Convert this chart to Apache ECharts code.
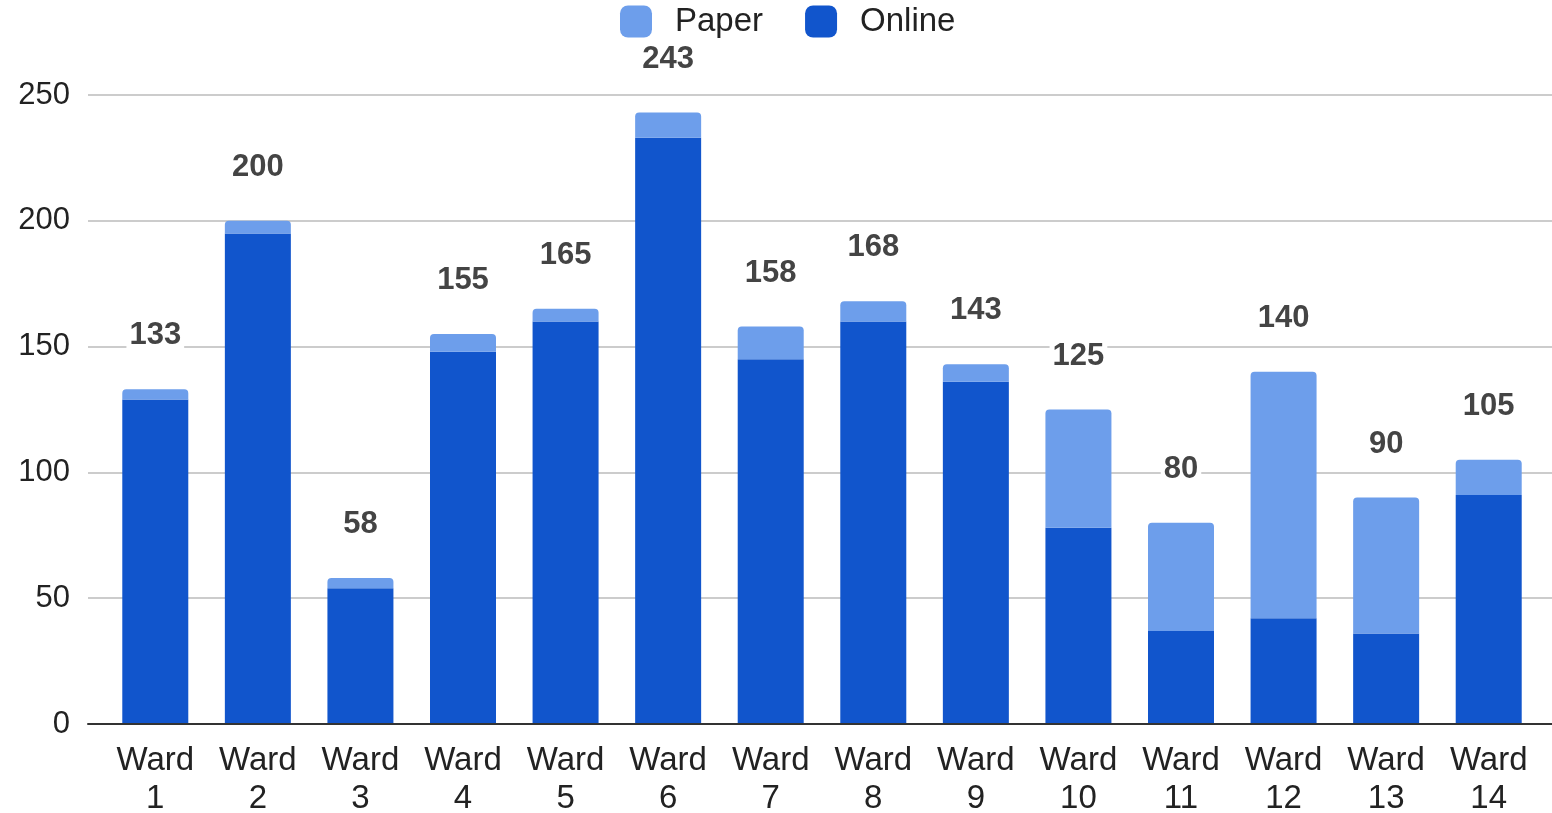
<!DOCTYPE html>
<html>
<head>
<meta charset="utf-8">
<script src="https://cdn.jsdelivr.net/npm/echarts@6/dist/echarts.min.js"></script>
<style>html,body{margin:0;padding:0;background:#fff;}#c{width:1552px;height:813px;}</style>
</head>
<body>
<div id="c"></div>
<script>
const categories = ['Ward\n1','Ward\n2','Ward\n3','Ward\n4','Ward\n5','Ward\n6','Ward\n7','Ward\n8','Ward\n9','Ward\n10','Ward\n11','Ward\n12','Ward\n13','Ward\n14'];
const online = [129,195,54,148,160,233,145,160,136,78,37,42,36,91];
const paper = [4,5,4,7,5,10,13,8,7,47,43,98,54,14];
const totals = [133,200,58,155,165,243,158,168,143,125,80,140,90,105];
const yTicks = [0,50,100,150,200,250];

const FONT = '"Liberation Sans", Arial, sans-serif';
const chart = echarts.init(document.getElementById('c'));
chart.setOption({
  animation: false,
  backgroundColor: '#fff',
  textStyle: {fontFamily: FONT},
  legend: {
    data: ['Paper','Online'],
    top: 0, left: 615,
    icon: 'roundRect',
    itemWidth: 32, itemHeight: 32, itemGap: 42,
    textStyle: {fontSize: 33, color: '#222', fontFamily: FONT, padding: [0,0,0,18]}
  },
  grid: [
    {left: 88, right: 0, top: 95, bottom: 89, containLabel: false, outerBoundsMode: 'none'},
    {left: 104, right: 12, top: 95, bottom: 89, containLabel: false, outerBoundsMode: 'none'}
  ],
  xAxis: [
    {gridIndex: 0, type: 'category', data: [''], z: 20, axisLine: {show: true, lineStyle: {color: '#333', width: 2}}, axisTick: {show: false}, axisLabel: {show: false}},
    {gridIndex: 1, type: 'category', data: categories, axisLine: {show: false}, axisTick: {show: false},
     axisLabel: {fontSize: 33, color: '#222', lineHeight: 38, margin: 18, fontFamily: FONT, interval: 0}}
  ],
  yAxis: [
    {gridIndex: 0, type: 'value', min: yTicks[0], max: yTicks[yTicks.length-1], interval: 50,
     axisLine: {show: false}, axisTick: {show: false},
     splitLine: {lineStyle: {color: '#cccccc', width: 2}},
     axisLabel: {fontSize: 31, color: '#222', margin: 18, fontFamily: FONT}},
    {gridIndex: 1, type: 'value', min: yTicks[0], max: yTicks[yTicks.length-1], interval: 50, show: false, splitLine: {show: false}}
  ],
  series: [
    {name: 'Online', type: 'bar', stack: 'total', xAxisIndex: 1, yAxisIndex: 1, data: online, barWidth: 66, z: 5,
     itemStyle: {color: '#1155cc'}},
    {name: 'Paper', type: 'bar', stack: 'total', xAxisIndex: 1, yAxisIndex: 1, data: paper, barWidth: 66, z: 5,
     itemStyle: {color: '#6d9eeb', borderRadius: [4,4,0,0]},
     label: {show: true, position: 'top', distance: 38,
       formatter: p => String(totals[p.dataIndex]),
       fontSize: 31, fontWeight: 'bold', color: '#444', fontFamily: FONT,
       backgroundColor: '#fff', padding: [0,3]}}
  ]
});
</script>
</body>
</html>
